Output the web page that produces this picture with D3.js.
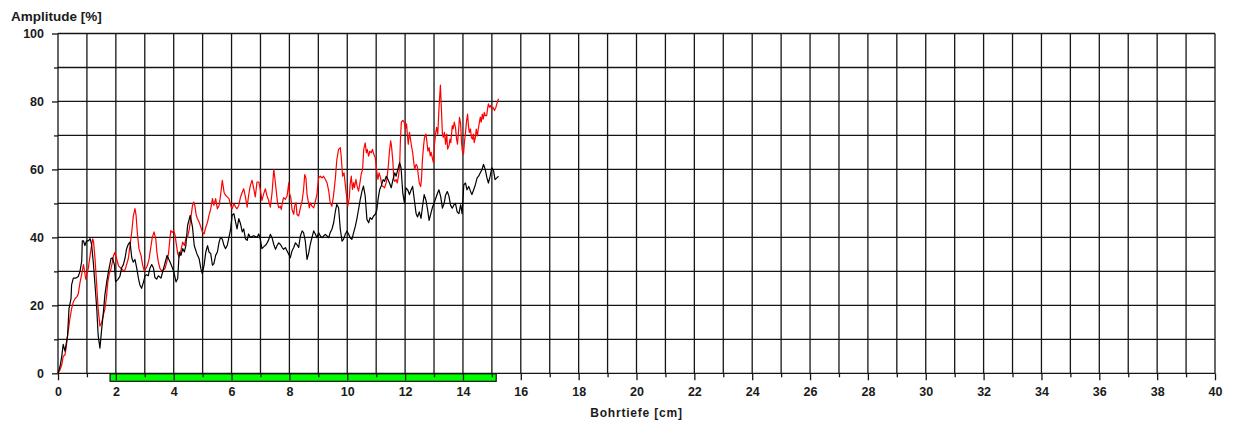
<!DOCTYPE html>
<html>
<head>
<meta charset="utf-8">
<script src="https://cdn.jsdelivr.net/npm/d3@7"></script>
<style>
  html, body { margin: 0; padding: 0; background: #fff; }
  svg { display: block; }
  text { font-family: "Liberation Sans", Arial, sans-serif; font-weight: bold; fill: #1a1a1a; }
</style>
</head>
<body>
<svg id="chart" width="1234" height="428"></svg>
<script>
// Depth axis ticks (cm) and amplitude ticks (%)
const depthTicks = d3.range(0, 41, 1);
const depthLabels = d3.range(0, 41, 2);
const ampTicks = d3.range(0, 101, 10);
const ampLabels = d3.range(0, 101, 20);

// Marked depth interval shown as a bar under the axis (cm)
const markedRange = [1.8, 15.15];

// Black trace: depth (cm) and amplitude (%)
const blackDepth = [0.00,0.07,0.13,0.18,0.24,0.33,0.38,0.45,0.47,0.53,0.61,0.70,0.76,0.82,0.84,0.88,0.93,0.99,1.05,1.11,1.16,1.22,1.28,1.34,1.39,1.45,1.51,1.57,1.62,1.68,1.74,1.83,1.88,1.95,1.99,2.06,2.14,2.20,2.26,2.32,2.37,2.43,2.49,2.55,2.60,2.66,2.72,2.78,2.83,2.89,2.95,3.01,3.06,3.12,3.18,3.24,3.30,3.35,3.41,3.47,3.56,3.68,3.77,3.85,3.91,4.00,4.08,4.14,4.19,4.25,4.31,4.37,4.42,4.48,4.57,4.65,4.71,4.80,4.88,4.94,4.99,5.05,5.11,5.17,5.22,5.28,5.34,5.39,5.45,5.51,5.57,5.62,5.68,5.74,5.79,5.85,5.91,5.97,6.02,6.08,6.14,6.19,6.25,6.31,6.37,6.42,6.48,6.54,6.59,6.65,6.77,6.88,6.94,6.99,7.05,7.11,7.20,7.28,7.34,7.40,7.46,7.52,7.57,7.63,7.69,7.75,7.80,7.86,7.92,7.98,8.03,8.09,8.15,8.21,8.26,8.32,8.38,8.44,8.49,8.55,8.61,8.67,8.72,8.78,8.84,8.90,8.95,9.01,9.07,9.13,9.18,9.24,9.30,9.36,9.41,9.47,9.53,9.59,9.64,9.70,9.76,9.82,9.87,9.93,9.99,10.05,10.10,10.16,10.22,10.28,10.33,10.39,10.45,10.51,10.56,10.62,10.68,10.74,10.79,10.85,10.91,10.97,11.02,11.07,11.12,11.18,11.24,11.29,11.35,11.41,11.46,11.52,11.58,11.64,11.69,11.75,11.81,11.86,11.92,11.98,12.03,12.09,12.15,12.21,12.26,12.32,12.38,12.43,12.49,12.55,12.60,12.66,12.72,12.78,12.83,12.89,12.95,13.00,13.06,13.12,13.17,13.23,13.29,13.35,13.40,13.46,13.52,13.57,13.63,13.69,13.74,13.80,13.86,13.92,13.97,14.03,14.09,14.14,14.20,14.26,14.31,14.37,14.43,14.49,14.54,14.60,14.66,14.71,14.77,14.83,14.88,14.94,15.00,15.06,15.11,15.17,15.23];
const blackAmp = [0,2,5,8.5,6.5,11,19,22,26,28,28,28.5,30,33,39,39,37.6,39,39,39.6,38,32.7,26,19,11,7.4,13,18,23,26.7,29.7,33.7,34,32,27,27.5,28.5,31,32,34,36.6,38,38.6,34,32.7,33.5,31,28,26,25,26.7,28.7,29,28.7,31,32,31,28.2,27.7,28.7,28,31.8,34.7,33.2,32,30,26.9,28,35.7,34.7,36.7,35.7,37.6,43.5,46.5,43,37.6,35.2,33.7,30.8,29.3,31.8,35.7,37.6,35.7,35.2,31.8,32.3,34.7,35.7,38.6,40,39.5,37.6,36.7,37.6,40,42.5,46.5,47,44.5,42.5,45.5,44,41.6,42.5,39.6,39.1,41,40,40.5,40,41,39.6,36.7,37.2,37.9,39.2,40.9,39.9,37.9,36.5,37.5,38.4,37.9,37,36.5,37,36,35,34,36,37,38.4,37.9,37,40.4,41.9,41.4,38.9,33.5,35.5,37.9,39.9,41.9,40.9,39.9,41.4,40.4,39.9,40.4,40.9,40.4,39.9,41.4,42.4,44.3,47.7,49.7,48.7,42.4,38.9,39.4,40.9,41.9,40.9,39.9,39.4,41.4,43.3,45.3,48.2,51.2,53.6,55.1,52.2,45.3,44.3,45.8,45.3,46.3,46.8,48,51.5,54,55.3,57,56.5,58,57,56,54.6,57,59,58,60,62,60.5,53,50,54.6,54,52.6,54,55,51,47,46,47.5,45.6,49,52.6,51,48,45,47,49,50,51.5,53,54,52,48.6,50,52.5,53.5,52,49.5,48.6,49.6,50,47.5,47,49.6,47,55.5,56,54,55,53.6,52.6,54,55.5,57.5,58,59,60,61.5,60,57.5,56,58,60.5,59.5,57,57.5,58];

// Red trace: depth (cm) and amplitude (%)
const redDepth = [0.00,0.07,0.13,0.18,0.24,0.28,0.33,0.38,0.41,0.47,0.53,0.59,0.65,0.70,0.76,0.82,0.88,0.91,0.96,0.99,1.05,1.11,1.16,1.20,1.23,1.28,1.34,1.39,1.45,1.51,1.57,1.62,1.68,1.72,1.77,1.83,1.88,1.92,1.97,2.03,2.09,2.14,2.20,2.26,2.32,2.43,2.49,2.55,2.60,2.66,2.70,2.74,2.80,2.87,2.93,2.98,3.03,3.09,3.15,3.20,3.26,3.32,3.38,3.42,3.47,3.53,3.58,3.64,3.70,3.76,3.82,3.87,3.90,3.95,4.00,4.05,4.08,4.14,4.19,4.25,4.31,4.37,4.42,4.48,4.54,4.59,4.65,4.69,4.73,4.78,4.82,4.88,4.94,4.99,5.05,5.11,5.17,5.22,5.28,5.34,5.39,5.45,5.51,5.57,5.62,5.68,5.74,5.79,5.85,5.91,5.97,6.02,6.08,6.14,6.19,6.25,6.31,6.37,6.42,6.48,6.54,6.59,6.65,6.71,6.77,6.82,6.88,6.94,6.99,7.05,7.11,7.17,7.22,7.28,7.34,7.40,7.46,7.49,7.54,7.59,7.63,7.69,7.72,7.77,7.80,7.86,7.92,7.98,8.00,8.05,8.09,8.15,8.18,8.23,8.26,8.32,8.38,8.44,8.49,8.53,8.57,8.61,8.64,8.69,8.72,8.78,8.84,8.90,8.95,9.01,9.07,9.13,9.18,9.24,9.30,9.36,9.41,9.47,9.53,9.59,9.64,9.70,9.76,9.79,9.84,9.89,9.93,9.99,10.02,10.07,10.10,10.14,10.18,10.22,10.25,10.30,10.34,10.39,10.44,10.48,10.53,10.57,10.62,10.66,10.69,10.74,10.78,10.83,10.87,10.92,10.97,11.01,11.06,11.10,11.15,11.20,11.24,11.29,11.33,11.37,11.42,11.46,11.50,11.53,11.58,11.61,11.65,11.69,11.73,11.77,11.81,11.84,11.87,11.92,11.97,12.01,12.05,12.08,12.11,12.15,12.18,12.22,12.26,12.30,12.33,12.38,12.42,12.46,12.49,12.54,12.57,12.60,12.64,12.67,12.72,12.75,12.79,12.83,12.87,12.90,12.95,12.98,13.01,13.06,13.09,13.13,13.17,13.22,13.25,13.29,13.32,13.36,13.40,13.44,13.47,13.52,13.55,13.58,13.63,13.66,13.70,13.74,13.78,13.81,13.85,13.88,13.92,13.95,13.98,14.02,14.05,14.09,14.12,14.16,14.19,14.22,14.26,14.29,14.33,14.36,14.39,14.43,14.46,14.50,14.53,14.57,14.60,14.63,14.67,14.70,14.74,14.77,14.82,14.85,14.88,14.92,14.95,15.00,15.04,15.09,15.14,15.17,15.23];
const redAmp = [0,1,2.5,5,5.4,7.4,11,14,16,19,21,22,22.5,23.3,26.7,29.2,32,30.5,27.7,28.7,31,34.7,37.6,39.6,38.6,33.7,25.7,18.8,13.9,14.9,17.3,18.8,22.8,26.7,29.2,30.7,32.7,34.7,35.6,33.7,31.7,31.2,30.7,30.2,30.5,33.7,37.6,41.6,46,48.5,46.5,41.6,36.6,34.7,31.7,30.2,30.7,31.7,33.7,36.6,40,41.6,39.6,35.6,32.7,30.7,30.2,30.5,30.8,32.7,35.2,39.6,42,41.5,42,40.6,38.6,35.2,34.2,36.2,38.6,37.6,39.6,40.1,42.5,45.5,49.4,50.4,49.4,46.5,45.5,44.5,43,41.6,41,43,44.5,46.5,48.4,51.4,49.4,51.4,48.4,49.4,52.4,56.8,53.3,52.4,51.9,51.4,49.4,48.4,49.9,48.9,48.4,49.4,51.9,53.3,54.3,51.9,48.9,52.4,55.3,56.8,54.3,51.9,56.3,56.3,54.3,50.9,52.8,54.3,52.4,50.9,48.9,53.1,60,58,54.1,50.2,48.7,49.2,48.2,50.7,51.7,51.2,52.2,56.1,53.1,51.7,48.2,46.8,49.2,50.2,46.8,46.3,48.7,50.7,54.1,58.5,57.5,52.6,51.2,48.7,50.2,49.2,48.7,50.7,52.6,57.5,58,57.5,58,57.1,56.1,53.6,50.2,49.2,52.6,57.5,62.9,65.9,66.4,63.9,58,59,55.6,51.2,49.2,51.7,55.6,58,54.1,56.1,54.6,57.1,55.1,53.6,56.1,58.5,60,65.9,67.8,64.9,65.9,63.9,65.4,64.9,65.9,64.4,63.4,60,57.1,59,57.6,55.1,55,54.6,55.6,57,61,65.4,68.4,66.9,62,57,56.5,57,56,58,60.5,69,73.9,74.4,73.9,71.9,73.4,70,67.4,70.9,69.4,66.9,65,62,60,61.5,61,58,56,55,57.5,63,67,69.4,70.4,68.4,65.4,66.4,64,65,63,62,66.9,70.9,72.4,70.4,77.8,84.8,78.8,70.4,69.4,70.9,67.4,70.4,66,67,68.9,67.9,72.9,71.9,73.9,72.4,69,67.4,71.6,75.3,73.4,67.9,65.4,64.5,67.9,70.9,73.9,76.3,72.9,70.9,71.9,69.4,68.9,70.4,67.9,69.4,71.9,69.9,71.9,73.9,75.4,73.9,76.3,74.8,76.8,75.8,75.8,77.8,79.3,78.3,78.8,77.8,78.3,77.3,78.3,79.3,80.8];

const svg = d3.select("#chart");
const x = d3.scaleLinear().domain([0, 40]).range([58, 1215]);
const y = d3.scaleLinear().domain([0, 100]).range([373.3, 33.5]);

const gridColor = "#151515";

// Grid
svg.append("g").selectAll("line.v").data(depthTicks).join("line")
  .attr("x1", d => x(d)).attr("x2", d => x(d))
  .attr("y1", y(0)).attr("y2", y(100))
  .attr("stroke", gridColor).attr("stroke-width", 1.3);
svg.append("g").selectAll("line.h").data(ampTicks).join("line")
  .attr("x1", x(0)).attr("x2", x(40))
  .attr("y1", d => y(d)).attr("y2", d => y(d))
  .attr("stroke", gridColor).attr("stroke-width", 1.3);

// Data lines
const line = d3.line().x(d => x(d[0])).y(d => y(d[1]));
svg.append("path")
  .datum(d3.zip(redDepth, redAmp))
  .attr("d", line).attr("fill", "none")
  .attr("stroke", "#ff0000").attr("stroke-width", 1.2).attr("stroke-linejoin", "round");
svg.append("path")
  .datum(d3.zip(blackDepth, blackAmp))
  .attr("d", line).attr("fill", "none")
  .attr("stroke", "#000000").attr("stroke-width", 1.2).attr("stroke-linejoin", "round");

// Marked interval bar
svg.append("rect")
  .attr("x", x(markedRange[0])).attr("y", y(0) + 0.5)
  .attr("width", x(markedRange[1]) - x(markedRange[0])).attr("height", 7.5)
  .attr("fill", "#00ff00").attr("stroke", "#111").attr("stroke-width", 1.2);

// Axes
function styleAxis(g) {
  g.select(".domain").remove();
  g.selectAll(".tick line").attr("stroke", gridColor).attr("stroke-width", 1.3);
  g.selectAll(".tick text").attr("fill", "#1a1a1a").style("font-size", "12.5px").style("font-weight", "bold")
    .style("font-family", '"Liberation Sans", Arial, sans-serif');
}
svg.append("g").attr("transform", `translate(0,${y(0)})`)
  .call(d3.axisBottom(x).tickValues(depthTicks.filter(d => d % 2)).tickSize(4).tickFormat(""))
  .call(styleAxis);
svg.append("g").attr("transform", `translate(0,${y(0)})`)
  .call(d3.axisBottom(x).tickValues(depthLabels).tickSize(7).tickPadding(7).tickFormat(d3.format("d")))
  .call(styleAxis);
svg.append("g").attr("transform", `translate(${x(0)},0)`)
  .call(d3.axisLeft(y).tickValues(ampTicks.filter(d => d % 20)).tickSize(4).tickFormat(""))
  .call(styleAxis);
svg.append("g").attr("transform", `translate(${x(0)},0)`)
  .call(d3.axisLeft(y).tickValues(ampLabels).tickSize(6).tickPadding(8).tickFormat(d3.format("d")))
  .call(styleAxis);

// Axis titles
svg.append("text").attr("x", 11).attr("y", 20.5)
  .style("font-size", "13.5px").text("Amplitude [%]");
svg.append("text").attr("x", x(20)).attr("y", 417).attr("text-anchor", "middle")
  .style("font-size", "12px").style("letter-spacing", "0.8px").text("Bohrtiefe [cm]");
</script>
</body>
</html>
